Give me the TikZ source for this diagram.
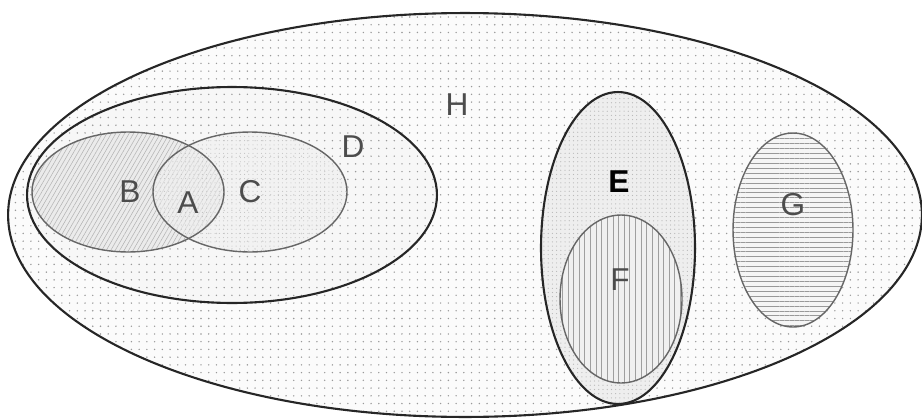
\documentclass[tikz,border=0pt]{standalone}
\usepackage{fontspec}
\setmainfont{Liberation Sans}
\usetikzlibrary{shapes.geometric,patterns.meta}
\begin{document}
\begin{tikzpicture}[x=0.02cm, y=-0.02cm,
  set/.style={ellipse, inner sep=0pt},
  outerset/.style={set, draw=black!85, line width=1.2pt},
  innerset/.style={set, draw=black!60, line width=0.8pt},
  lbl/.style={font=\fontsize{18}{20}\selectfont, text=black!70}]
\useasboundingbox (0,0) rectangle (922,419);
\node[outerset, minimum width=18.28cm, minimum height=8.08cm, preaction={fill=gray!3}, pattern={Dots[distance=4.4pt, radius=0.45pt]}, pattern color=gray!80] (H) at (465,215) {};
\node[outerset, minimum width=8.2cm, minimum height=4.32cm, preaction={fill=gray!6}, pattern={Dots[distance=4.4pt, radius=0.45pt]}, pattern color=gray!80] (D) at (232,195) {};
\node[set, minimum width=3.84cm, minimum height=2.4cm, preaction={fill=gray!16}, pattern={Lines[angle=60, distance=2.2pt, line width=0.3pt]}, pattern color=gray!60] (B) at (128,192) {};
\node[set, minimum width=3.88cm, minimum height=2.4cm, preaction={fill=gray!12, fill opacity=0.6}, pattern={Dots[distance=2.4pt, radius=0.3pt]}, pattern color=gray!50] (C) at (250,192) {};
\node[innerset, minimum width=3.84cm, minimum height=2.4cm] (Bline) at (128,192) {};
\node[innerset, minimum width=3.88cm, minimum height=2.4cm] (Cline) at (250,192) {};
\node[outerset, minimum width=3.08cm, minimum height=6.24cm, preaction={fill=gray!13}, pattern={Dots[distance=2.4pt, radius=0.35pt]}, pattern color=gray!55] (E) at (618,248) {};
\node[innerset, minimum width=2.44cm, minimum height=3.36cm, preaction={fill=gray!12}, pattern={Lines[angle=90, distance=3.2pt, line width=0.3pt]}, pattern color=gray!75] (F) at (621,299) {};
\node[innerset, minimum width=2.4cm, minimum height=3.88cm, preaction={fill=gray!8}, pattern={Lines[angle=0, distance=2.8pt, line width=0.3pt]}, pattern color=gray!80] (G) at (793,230) {};
\node[lbl] (labH) at (457,105) {H};
\node[lbl] (labD) at (353,147) {D};
\node[lbl] (labB) at (130,192) {B};
\node[lbl] (labA) at (188,203) {A};
\node[lbl] (labC) at (250,192) {C};
\node[lbl, text=black, font=\fontsize{18}{20}\selectfont\bfseries] (labE) at (619,182) {E};
\node[lbl] (labF) at (620,280) {F};
\node[lbl] (labG) at (793,205) {G};
\end{tikzpicture}
\end{document}
